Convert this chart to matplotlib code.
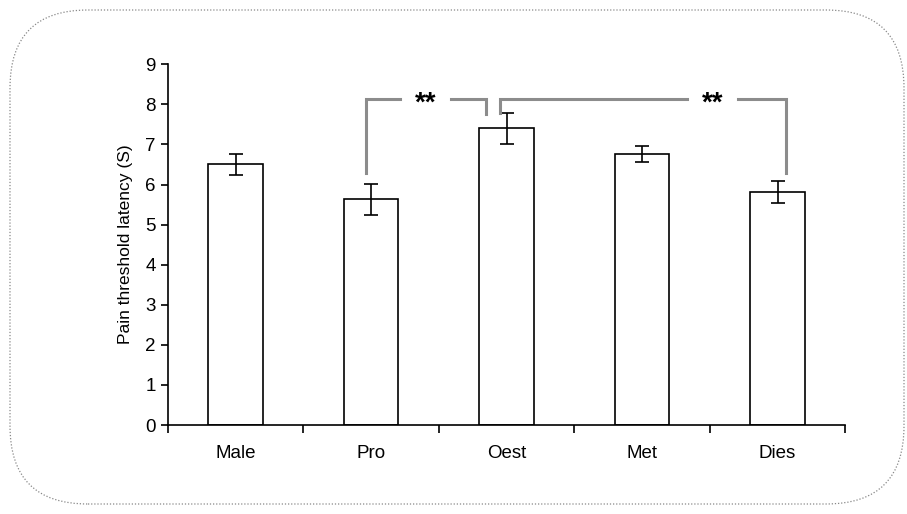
import matplotlib.pyplot as plt
import matplotlib.transforms as mtransforms
from matplotlib.patches import FancyBboxPatch

plt.rcParams['font.family'] = ['Liberation Sans', 'DejaVu Sans']

# data
groups = ['Male', 'Pro', 'Oest', 'Met', 'Dies']
latency = [6.51, 5.63, 7.40, 6.76, 5.82]
sem = [0.26, 0.39, 0.38, 0.20, 0.28]

# significance brackets: (x start, y start, x end, y end, bar height, star x)
brackets = [
    (0.96, 6.28, 1.85, 7.76, 8.14, 1.40),
    (1.95, 7.78, 4.06, 6.28, 8.14, 3.52),
]

fig = plt.figure(figsize=(9.07, 5.14), dpi=100)
ax = fig.add_axes([0.185, 0.173, 0.747, 0.702])

x = list(range(len(groups)))
ax.bar(x, latency, width=0.4, color='white', edgecolor='black', linewidth=1.2)
ax.errorbar(x, latency, yerr=sem, fmt='none', ecolor='black', elinewidth=1.2,
            capsize=5, capthick=1.2)

gray = '#8c8c8c'
for x0, y0, x1, y1, ytop, xs in brackets:
    # leave a gap around the stars
    ax.plot([x0, x0, xs - 0.19], [y0, ytop, ytop], color=gray, lw=2.2,
            solid_joinstyle='miter', clip_on=False)
    ax.plot([xs + 0.19, x1, x1], [ytop, ytop, y1], color=gray, lw=2.2,
            solid_joinstyle='miter', clip_on=False)
    ax.text(xs, ytop - 0.12, '**', ha='center', va='center', fontsize=20,
            fontweight='bold', color='black')

ax.set_xlim(-0.5, 4.5)
ax.set_ylim(0, 9)
ax.set_yticks(range(10))
ax.set_xticks([i - 0.5 for i in range(6)], minor=False)
ax.set_xticklabels([])
ax.set_xticks(x, minor=True)
ax.set_xticklabels(groups, minor=True)
ax.tick_params(axis='x', which='minor', length=0, pad=14, labelsize=13.5)
ax.tick_params(axis='x', which='major', length=6, width=1.2, direction='out')
ax.tick_params(axis='y', length=5, width=1.2, labelsize=13.5, direction='out')
ax.set_ylabel('Pain threshold latency (S)', fontsize=12.5, labelpad=9)

ax.spines['top'].set_visible(False)
ax.spines['right'].set_visible(False)
ax.spines['left'].set_linewidth(1.2)
ax.spines['bottom'].set_linewidth(1.2)

# rounded dotted frame around the picture
frame = FancyBboxPatch((10, 10), 894, 494,
                       boxstyle='round,pad=0,rounding_size=78',
                       transform=mtransforms.IdentityTransform(),
                       facecolor='none', edgecolor='#888888', linewidth=0.9,
                       linestyle=(0, (1, 1.5)))
fig.patches.append(frame)

fig.savefig('out.png', dpi=100)
